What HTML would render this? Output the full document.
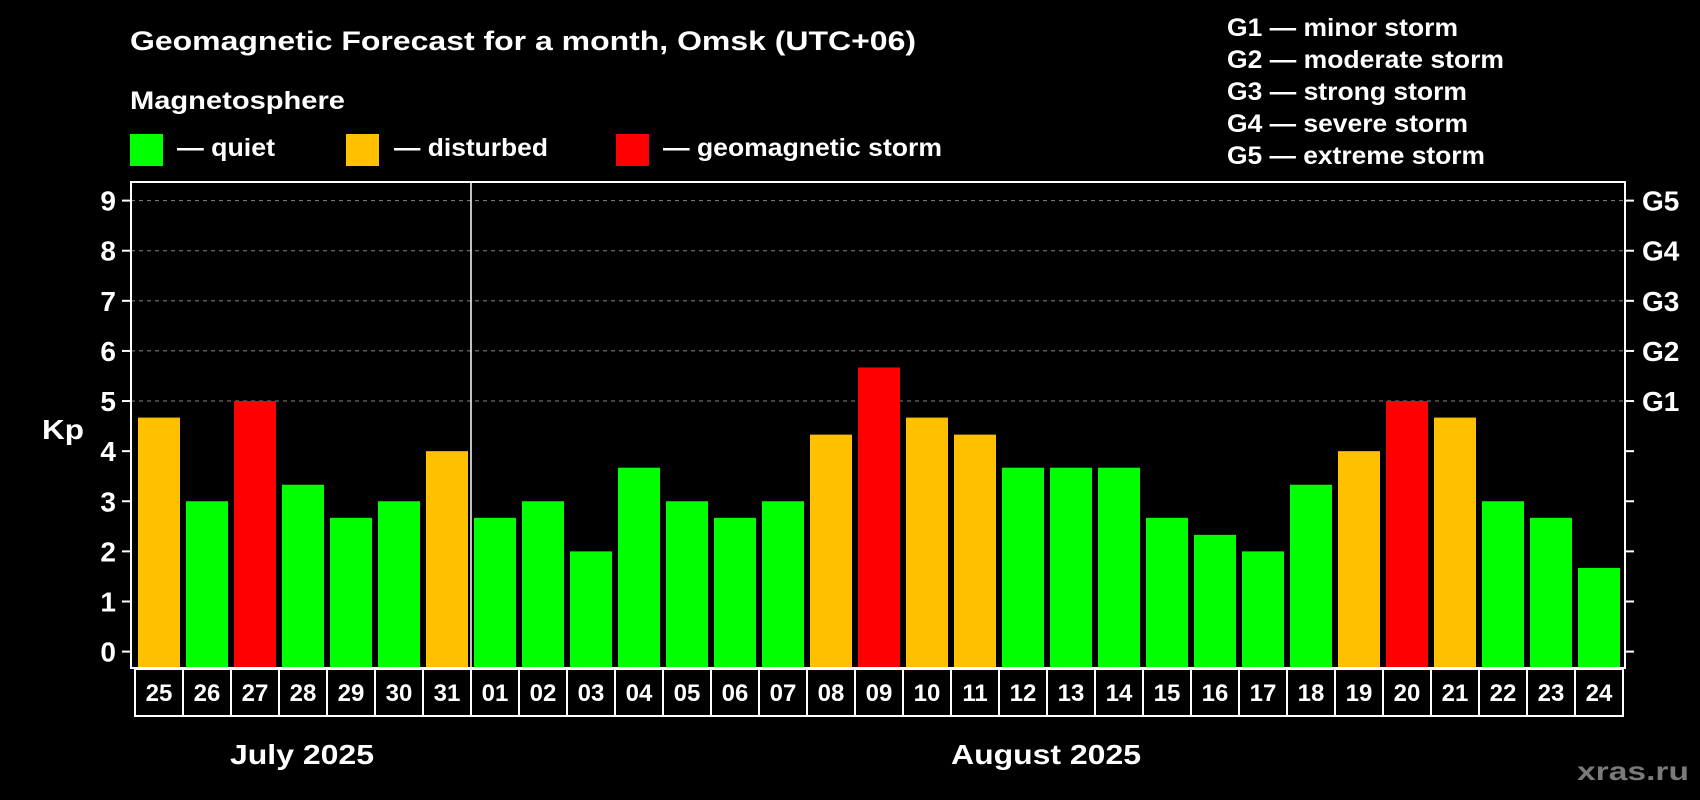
<!DOCTYPE html>
<html><head><meta charset="utf-8"><style>
html,body{margin:0;padding:0;background:#000;}
svg{display:block;font-family:"Liberation Sans",Arial,sans-serif;font-weight:bold;}
</style></head><body>
<svg id="chart" width="1700" height="800" viewBox="0 0 1700 800" xmlns="http://www.w3.org/2000/svg">
<rect width="1700" height="800" fill="#000"/>
<text x="130" y="50" fill="#fff" font-size="27" textLength="786" lengthAdjust="spacingAndGlyphs">Geomagnetic Forecast for a month, Omsk (UTC+06)</text>
<text x="130" y="109" fill="#fff" font-size="25" textLength="215" lengthAdjust="spacingAndGlyphs">Magnetosphere</text>
<g>
<rect x="130" y="134" width="33" height="32" fill="#00ff00"/>
<text x="177" y="156" fill="#fff" font-size="25" textLength="98" lengthAdjust="spacingAndGlyphs">— quiet</text></g>
<g>
<rect x="346" y="134" width="33" height="32" fill="#ffc000"/>
<text x="394" y="156" fill="#fff" font-size="25" textLength="154" lengthAdjust="spacingAndGlyphs">— disturbed</text></g>
<g>
<rect x="616" y="134" width="33" height="32" fill="#ff0000"/>
<text x="663" y="156" fill="#fff" font-size="25" textLength="279" lengthAdjust="spacingAndGlyphs">— geomagnetic storm</text></g>
<g fill="#fff" font-size="25">
<text x="1227" y="36" textLength="231" lengthAdjust="spacingAndGlyphs">G1 — minor storm</text>
<text x="1227" y="68" textLength="277" lengthAdjust="spacingAndGlyphs">G2 — moderate storm</text>
<text x="1227" y="100" textLength="240" lengthAdjust="spacingAndGlyphs">G3 — strong storm</text>
<text x="1227" y="132" textLength="241" lengthAdjust="spacingAndGlyphs">G4 — severe storm</text>
<text x="1227" y="164" textLength="258" lengthAdjust="spacingAndGlyphs">G5 — extreme storm</text>
</g>
<text x="42" y="439" fill="#fff" font-size="28" textLength="42" lengthAdjust="spacingAndGlyphs">Kp</text>
<text x="230" y="764" fill="#fff" font-size="28" textLength="144" lengthAdjust="spacingAndGlyphs">July 2025</text>
<text x="951" y="764" fill="#fff" font-size="28" textLength="190" lengthAdjust="spacingAndGlyphs">August 2025</text>
<text x="1577" y="780" fill="#7a7a7a" font-size="26" textLength="112" lengthAdjust="spacingAndGlyphs">xras.ru</text>
<g id="plot"></g>
</svg>
<script>
const days = ["25","26","27","28","29","30","31","01","02","03","04","05","06","07","08","09","10","11","12","13","14","15","16","17","18","19","20","21","22","23","24"];
const kpValues = [4.67,3,5,3.33,2.67,3,4,2.67,3,2,3.67,3,2.67,3,4.33,5.67,4.67,4.33,3.67,3.67,3.67,2.67,2.33,2,3.33,4,5,4.67,3,2.67,1.67];
const yTicks = [0,1,2,3,4,5,6,7,8,9];
const gLabels = ["G1","G2","G3","G4","G5"];
const gLevels = [5,6,7,8,9];
const monthSplitIndex = 7;

const NS="http://www.w3.org/2000/svg";
const plot=document.getElementById('plot');
const L=131,R=1625,T=182,B=668,Y0=651.6,Y9=200.6;
const y=v=>Y0-(v/9)*(Y0-Y9);
const step=48, x0=138, bw=42;
const x=i=>x0+i*step;
function mk(tag,attrs){const e=document.createElementNS(NS,tag);for(const k in attrs)e.setAttribute(k,attrs[k]);plot.appendChild(e);return e;}

gLevels.forEach(v=>{
  const g=mk('line',{x1:L,x2:R,y1:y(v),y2:y(v),stroke:'#888','stroke-width':1,'stroke-dasharray':'4,4'});
  
  
});
kpValues.forEach((v,i)=>{
  const c=v>=5?'#ff0000':(v>=4?'#ffc000':'#00ff00');
  const r=mk('rect',{x:x(i),y:y(v),width:bw,height:B-y(v),fill:c});
  
  
});
const frame=mk('rect',{x:L,y:T,width:R-L,height:B-T,fill:'none',stroke:'#fff','stroke-width':2});


const sep=mk('line',{x1:x(monthSplitIndex)-3,x2:x(monthSplitIndex)-3,y1:T,y2:B,stroke:'#fff','stroke-width':1.5});


yTicks.forEach(v=>{
  const t=mk('line',{x1:L-9,x2:L,y1:y(v),y2:y(v),stroke:'#fff','stroke-width':2});
  
  
  const t2=mk('line',{x1:R,x2:R+9,y1:y(v),y2:y(v),stroke:'#fff','stroke-width':2});
  
  
  const lb=mk('text',{x:116,y:y(v)+10,fill:'#fff','font-size':28,'text-anchor':'end'});
  lb.textContent=yTicks[v];
  
  
});
gLevels.forEach((v,i)=>{
  const lb=mk('text',{x:1642,y:y(v)+10,fill:'#fff','font-size':28});
  lb.textContent=gLabels[i];
  
  
});
days.forEach((d,i)=>{
  const bx=mk('rect',{x:135+i*step,y:669,width:step,height:47,fill:'none',stroke:'#fff','stroke-width':2});
  
  
  const t=mk('text',{x:135+i*step+step/2,y:701,fill:'#fff','font-size':24,'text-anchor':'middle'});
  t.textContent=d;
  
  
});
</script>
</body></html>
